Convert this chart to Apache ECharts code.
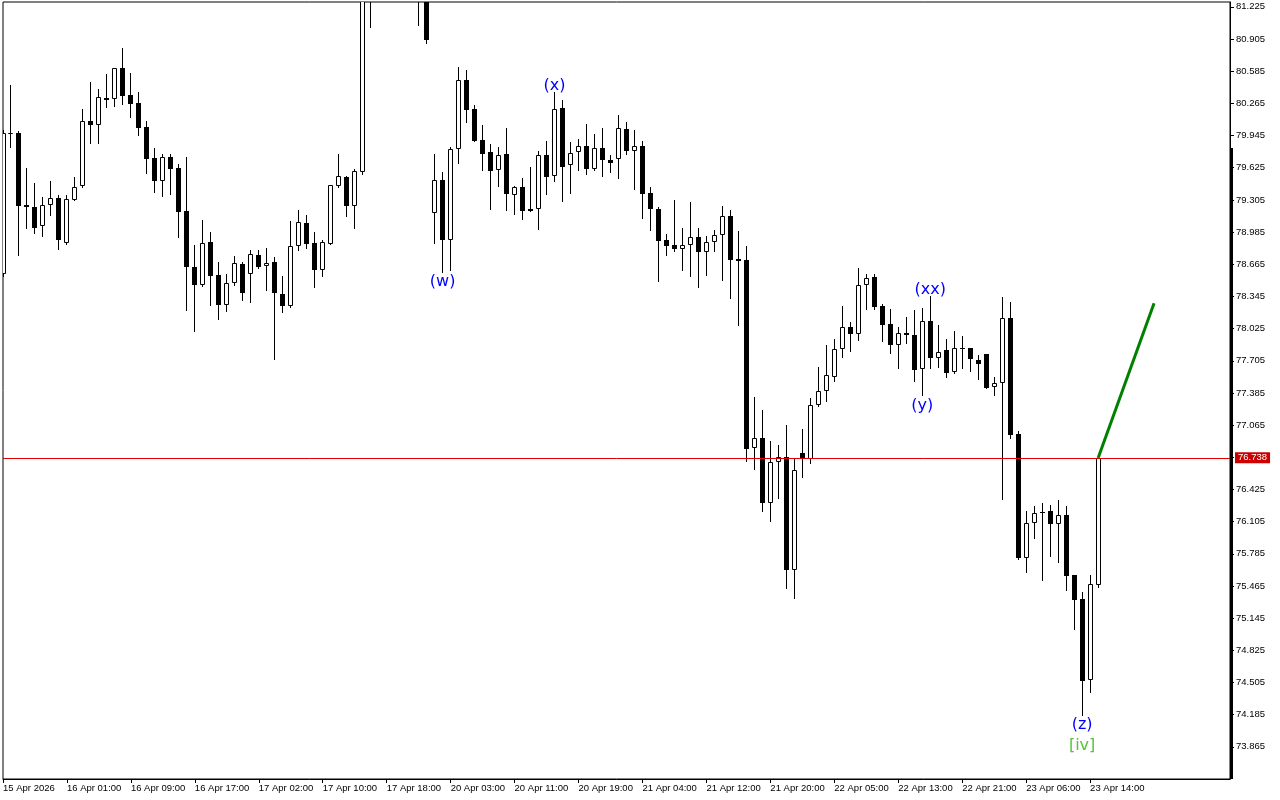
<!DOCTYPE html>
<html>
<head>
<meta charset="utf-8">
<script src="https://cdn.jsdelivr.net/npm/echarts@6/dist/echarts.min.js"></script>
<style>
  html, body { margin: 0; padding: 0; background: #fff; }
  #chart { width: 1280px; height: 800px; }
</style>
</head>
<body>
<div id="chart"></div>
<script>
// ---- data (hourly bars, index 0 = 15 Apr 2026 17:00) ----
const tickLabels = ['15 Apr 2026','16 Apr 01:00','16 Apr 09:00','16 Apr 17:00','17 Apr 02:00','17 Apr 10:00',
  '17 Apr 18:00','20 Apr 03:00','20 Apr 11:00','20 Apr 19:00','21 Apr 04:00','21 Apr 12:00','21 Apr 20:00',
  '22 Apr 05:00','22 Apr 13:00','22 Apr 21:00','23 Apr 06:00','23 Apr 14:00'];
const barsPerLabel = 8;

const priceTicks = [73.865,74.185,74.505,74.825,75.145,75.465,75.785,76.105,76.425,76.745,
  77.065,77.385,77.705,78.025,78.345,78.665,78.985,79.305,79.625,79.945,80.265,80.585,80.905,81.225];

const openP = [78.565,79.960,79.970,79.254,79.231,79.042,79.251,79.321,78.873,79.307,
  79.440,80.090,80.047,80.315,80.305,80.614,80.345,80.269,80.027,79.722,
  79.496,79.729,79.622,79.194,78.634,78.458,78.883,78.558,78.256,78.475,
  78.664,78.565,78.754,78.644,78.684,78.366,78.246,78.843,79.072,78.873,
  78.611,78.869,79.446,79.533,79.247,79.585,81.850,82.100,82.400,82.200,
  81.800,82.000,81.700,81.500,79.172,79.500,78.909,79.808,80.494,80.206,
  79.898,79.778,79.599,79.758,79.350,79.430,79.211,79.211,79.748,79.540,
  80.216,79.649,79.778,79.838,79.609,79.818,79.702,79.709,80.010,79.794,
  79.841,79.370,79.211,78.903,78.853,78.819,78.853,78.933,78.784,78.883,
  78.953,79.142,78.717,78.704,76.834,76.934,76.293,76.695,76.745,75.627,
  76.784,76.725,77.262,77.401,77.548,77.819,78.038,77.968,78.455,78.535,
  78.247,78.071,77.865,77.984,77.958,77.626,78.097,77.735,77.809,77.590,
  77.832,77.829,77.712,77.772,77.441,77.481,78.127,76.973,75.746,76.088,
  76.198,76.211,76.084,76.171,75.574,75.335,74.533,75.472];

const highP = [80.000,80.448,79.990,79.625,79.470,79.334,79.493,79.354,79.354,79.533,
  80.209,80.477,80.408,80.557,80.617,80.816,80.567,80.375,80.090,79.821,
  79.761,79.761,79.662,79.732,78.856,79.105,78.983,78.687,78.568,78.747,
  78.687,78.806,78.806,78.826,78.737,78.548,79.095,79.204,79.155,78.983,
  78.906,79.453,79.761,79.543,79.609,82.000,82.350,82.600,82.800,82.500,
  82.300,82.200,82.000,81.600,79.761,79.582,79.834,80.627,80.594,80.246,
  80.047,79.861,79.828,80.017,79.443,79.523,79.635,79.791,79.891,80.378,
  80.295,79.878,79.908,80.060,79.960,80.017,79.751,80.149,80.083,80.000,
  79.894,79.436,79.237,78.969,79.304,79.025,79.281,79.025,78.946,79.005,
  79.244,79.204,78.995,78.846,77.344,77.215,76.904,76.867,77.066,76.735,
  77.026,77.332,77.640,77.859,77.921,78.250,78.088,78.627,78.568,78.568,
  78.273,78.217,78.041,78.137,78.210,78.227,78.349,78.058,77.926,78.001,
  77.948,77.829,77.759,77.772,77.541,78.342,78.289,77.006,76.211,76.260,
  76.293,76.270,76.320,76.260,75.574,75.402,75.577,76.738];

const lowP = [78.548,79.831,78.757,79.028,78.979,78.949,79.158,78.819,78.866,79.301,
  79.438,79.874,79.874,80.232,80.242,80.256,80.132,79.953,79.575,79.386,
  79.347,79.367,78.939,78.210,78.004,78.451,78.256,78.123,78.203,78.458,
  78.312,78.292,78.630,78.412,77.725,78.193,78.244,78.806,78.829,78.441,
  78.551,78.866,79.436,79.148,79.025,79.562,81.027,81.700,81.900,81.600,
  81.500,81.400,81.044,80.868,78.879,78.591,78.608,79.675,80.077,79.891,
  79.605,79.217,79.446,79.207,79.168,79.118,79.190,79.018,79.367,79.496,
  79.297,79.376,79.602,79.559,79.607,79.545,79.579,79.526,79.758,79.416,
  79.128,79.008,78.501,78.757,78.797,78.608,78.548,78.441,78.561,78.797,
  78.511,78.332,78.064,76.711,76.631,76.214,76.114,76.343,75.448,75.348,
  76.552,76.691,77.258,77.308,77.507,77.745,77.805,77.908,78.223,78.223,
  77.904,77.785,77.636,77.884,77.507,77.367,77.636,77.646,77.547,77.588,
  77.636,77.600,77.521,77.437,77.363,76.333,76.932,75.730,75.607,75.945,
  75.527,75.763,75.703,75.428,75.040,74.182,74.410,75.452];

const closeP = [79.967,79.970,79.244,79.231,79.028,79.251,79.321,78.909,79.311,79.430,
  80.087,80.047,80.325,80.301,80.614,80.341,80.256,80.023,79.715,79.496,
  79.729,79.615,79.187,78.640,78.461,78.873,78.551,78.262,78.475,78.674,
  78.382,78.764,78.640,78.680,78.382,78.252,78.843,79.082,78.869,78.611,
  78.883,79.450,79.540,79.247,79.589,81.850,82.100,82.400,82.200,81.800,
  82.000,81.700,81.500,80.898,79.500,78.909,79.808,80.494,80.202,79.894,
  79.764,79.595,79.748,79.360,79.430,79.197,79.194,79.748,79.536,80.206,
  79.635,79.768,79.838,79.609,79.818,79.699,79.669,80.017,79.794,79.838,
  79.363,79.211,78.899,78.849,78.819,78.853,78.933,78.784,78.883,78.953,
  79.142,78.710,78.700,76.830,76.934,76.293,76.695,76.745,75.627,76.615,
  76.725,77.262,77.401,77.560,77.819,78.038,77.968,78.455,78.525,78.243,
  78.064,77.865,77.978,77.958,77.616,78.097,77.735,77.789,77.586,77.829,
  77.822,77.719,77.676,77.437,77.481,78.127,76.971,75.746,76.088,76.188,
  76.188,76.084,76.168,75.567,75.325,74.523,75.484,76.738];

// Elliott-wave annotations
const waveText  = ['(w)', '(x)', '(xx)', '(y)', '(z)', '[iv]'];
const waveIndex = [55, 69, 116, 115, 135, 135];
const wavePrice = [78.488, 80.440, 78.412, 77.255, 74.082, 73.876];

// projected move
const projIndex = [137, 144];
const projPrice = [76.738, 78.276];

// ---- chart ----
const lastPrice = closeP[closeP.length - 1];
const candleData = openP.map((o, i) => [i, o, closeP[i], lowP[i], highP[i]]);
const timeTicks = tickLabels.map((t, k) => k * barsPerLabel);
const waveColors = ['#0000ff', '#0000ff', '#0000ff', '#0000ff', '#0000ff', '#55c436'];
const waveData = waveText.map((t, k) => ({
  value: [waveIndex[k], wavePrice[k], t],
  label: { color: waveColors[k] }
}));

function renderCandle(params, api) {
  const i = api.value(0), o = api.value(1), c = api.value(2), l = api.value(3), h = api.value(4);
  const pO = api.coord([i, o]), pC = api.coord([i, c]);
  const pL = api.coord([i, l]), pH = api.coord([i, h]);
  const xi = Math.round(pO[0] - 0.5);
  const yH = Math.round(pH[1]), yL = Math.round(pL[1]);
  const yTop = Math.round(Math.min(pO[1], pC[1]));
  const yBot = Math.round(Math.max(pO[1], pC[1]));
  const children = [{
    type: 'line',
    shape: { x1: xi + 0.5, y1: yH, x2: xi + 0.5, y2: yL + 1 },
    style: { stroke: '#000', lineWidth: 1 }
  }];
  if (c > o) {
    children.push({
      type: 'rect',
      shape: { x: xi - 1.5, y: yTop + 0.5, width: 4, height: Math.max(yBot - yTop - 1, 0) },
      style: { fill: '#fff', stroke: '#000', lineWidth: 1 }
    });
  } else {
    children.push({
      type: 'rect',
      shape: { x: xi - 2, y: yTop, width: 5, height: Math.max(yBot - yTop, 1) },
      style: { fill: '#000' }
    });
  }
  return { type: 'group', children };
}

const axisFont = { fontFamily: 'Liberation Sans, Arial, sans-serif', fontSize: 9.5, color: '#000' };

const chart = echarts.init(document.getElementById('chart'), null, { renderer: 'canvas' });
chart.setOption({
  animation: false,
  backgroundColor: '#fff',
  grid: { left: 2, top: 2, right: 50, bottom: 21, show: true, borderColor: '#000', borderWidth: 1, backgroundColor: '#fff' },
  xAxis: {
    type: 'value', min: 0, max: 153.5,
    axisLine: { show: true, onZero: false, lineStyle: { color: '#000', width: 1 } },
    axisTick: { show: true, length: 4, customValues: timeTicks, lineStyle: { color: '#000' } },
    splitLine: { show: false },
    axisLabel: Object.assign({
      align: 'left', margin: 4, customValues: timeTicks,
      formatter: v => tickLabels[Math.round(v / barsPerLabel)] || ''
    }, axisFont)
  },
  yAxis: {
    type: 'value', position: 'right', min: 73.545, max: 81.2733,
    axisLine: { show: true, onZero: false, lineStyle: { color: '#000', width: 1 } },
    axisTick: { show: true, length: 4, customValues: priceTicks, lineStyle: { color: '#000' } },
    splitLine: { show: false },
    axisLabel: Object.assign({
      margin: 6, customValues: priceTicks,
      formatter: v => v.toFixed(3)
    }, axisFont)
  },
  graphic: [{
    type: 'rect', z: 100,
    shape: { x: 1230, y: 148, width: 3, height: 631 },
    style: { fill: '#000' }
  }],
  series: [
    {
      type: 'custom', name: 'price', clip: true,
      renderItem: renderCandle,
      encode: { x: 0, y: [1, 2, 3, 4] },
      data: candleData, z: 2
    },
    {
      type: 'line', name: 'projection',
      data: projIndex.map((x, k) => [x, projPrice[k]]),
      symbol: 'none', z: 4,
      lineStyle: { color: '#008000', width: 3 },
      markLine: {
        silent: true, symbol: ['none', 'none'], animation: false,
        lineStyle: { color: '#e00000', width: 1, type: 'solid' },
        label: {
          show: true, position: 'end', distance: 5,
          formatter: () => lastPrice.toFixed(3),
          color: '#fff', backgroundColor: '#cc0000', padding: [1, 3, 0, 3],
          fontFamily: 'Liberation Sans, Arial, sans-serif', fontSize: 9.5
        },
        data: [{ yAxis: lastPrice }]
      }
    },
    {
      type: 'scatter', name: 'waves', symbol: 'circle', symbolSize: 2, z: 5,
      itemStyle: { color: 'rgba(255,255,255,0)' },
      label: {
        show: true, position: 'inside', formatter: p => p.value[2], opacity: 1,
        fontFamily: 'DejaVu Sans, sans-serif', fontSize: 16,
        align: 'center', verticalAlign: 'middle'
      },
      data: waveData
    }
  ]
});
</script>
</body>
</html>
